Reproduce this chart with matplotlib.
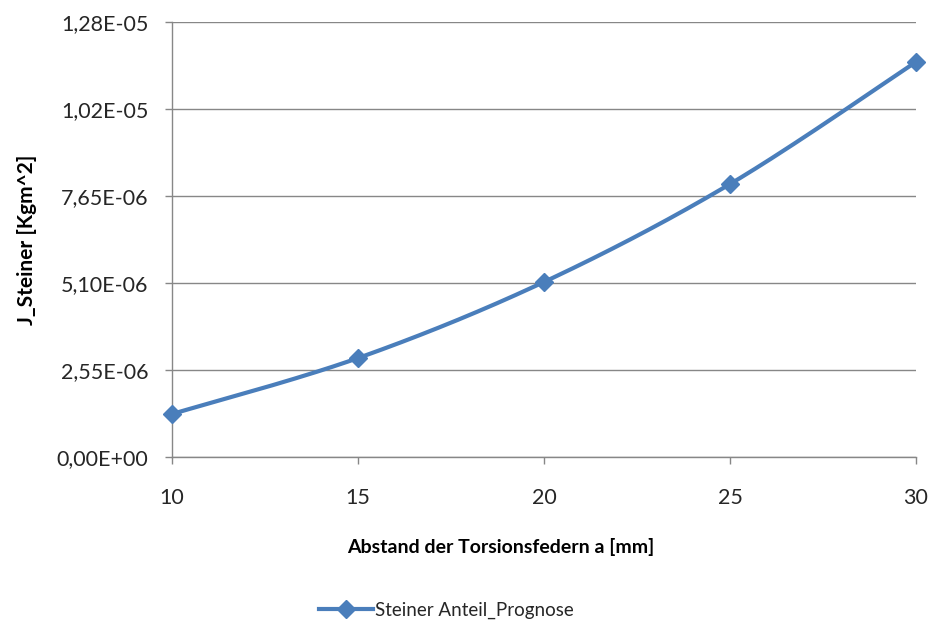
import numpy as np
import matplotlib
matplotlib.use("Agg")
import matplotlib.pyplot as plt
from matplotlib.ticker import FuncFormatter
from matplotlib.lines import Line2D

# Abstand der Torsionsfedern [mm] and predicted Steiner share [kg m^2]
abstand = [10, 15, 20, 25, 30]
j_steiner = [1.26e-06, 2.90e-06, 5.13e-06, 8.00e-06, 11.58e-06]
y_ticks = [0.0, 2.55e-06, 5.10e-06, 7.65e-06, 1.02e-05, 1.275e-05]
series_name = "Steiner Anteil_Prognose"

blue = "#4A7EBB"
grid_grey = "#878787"
plt.rcParams["font.family"] = ["Lato", "DejaVu Sans"]


def smooth(xs, ys, n=40):
    # Bezier segments with Catmull-Rom style control points (like spreadsheet smoothing)
    p = np.column_stack([xs, ys]).astype(float)
    ext = np.vstack([p[0], p, p[-1]])
    out = []
    for i in range(len(p) - 1):
        p0, p1, p2, p3 = ext[i], ext[i + 1], ext[i + 2], ext[i + 3]
        c1 = p1 + (p2 - p0) / 6
        c2 = p2 - (p3 - p1) / 6
        t = np.linspace(0, 1, n)[:, None]
        seg = ((1 - t) ** 3) * p1 + 3 * ((1 - t) ** 2) * t * c1 + 3 * (1 - t) * t ** 2 * c2 + t ** 3 * p2
        out.append(seg if i == 0 else seg[1:])
    seg = np.vstack(out)
    return seg[:, 0], seg[:, 1]


def sci_comma(v, pos):
    # round half up on the mantissa, decimal comma
    if v == 0:
        return "0,00E+00"
    e = int(np.floor(np.log10(abs(v))))
    m = np.floor(v / 10 ** e * 100 + 0.5 + 1e-9) / 100
    return ("%.2fE%+03d" % (m, e)).replace(".", ",")


fig = plt.figure(figsize=(9.33, 6.28), dpi=100)
ax = fig.add_axes([0.1844, 0.2723, 0.7974, 0.6927])

sx, sy = smooth(abstand, j_steiner)
ax.plot(sx, sy, color=blue, lw=3, solid_capstyle="round", zorder=3, clip_on=False)
ax.plot(abstand, j_steiner, ls="none", marker="D", ms=9.5, color=blue, zorder=4, clip_on=False)

ax.set_xlim(10, 30)
ax.set_ylim(0, 1.275e-05)
ax.set_xticks([10, 15, 20, 25, 30])
ax.set_yticks(y_ticks)
ax.yaxis.set_major_formatter(FuncFormatter(sci_comma))
ax.grid(axis="y", color=grid_grey, lw=1)
ax.set_axisbelow(True)

for side in ("top", "right"):
    ax.spines[side].set_visible(False)
for side in ("left", "bottom"):
    ax.spines[side].set_color(grid_grey)
    ax.spines[side].set_linewidth(1)

ax.tick_params(axis="both", direction="out", length=5, width=1, color=grid_grey,
               labelsize=15.5, labelcolor="#262626")
ax.tick_params(axis="y", pad=12)
ax.tick_params(axis="x", pad=17)

fig.text(0.537, 0.129, "Abstand der Torsionsfedern a [mm]", fontsize=14,
         fontweight="bold", ha="center", va="center")
ax.set_ylabel("J_Steiner [Kgm^2]", fontsize=15, fontweight="bold", labelpad=14)

handle = Line2D([], [], color=blue, lw=3, marker="D", ms=9.5)
fig.legend([handle], [series_name], loc="center left", bbox_to_anchor=(0.342, 0.028),
           frameon=False, fontsize=13.5, handlelength=2.9, handletextpad=0.1,
           borderaxespad=0, borderpad=0, labelcolor="#262626")

fig.savefig("out.png", dpi=100, facecolor="white")
